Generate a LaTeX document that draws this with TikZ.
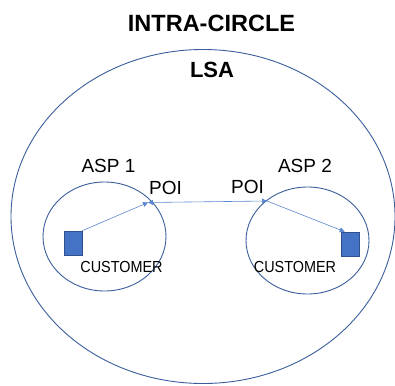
\documentclass[tikz,border=0pt]{standalone}
\usepackage{fontspec}
\setmainfont{Liberation Sans}
\usetikzlibrary{shapes.geometric,arrows.meta}
\definecolor{ringblue}{HTML}{3A5E9C}
\definecolor{boxblue}{HTML}{4472C4}
\definecolor{boxedge}{HTML}{2F528F}
\definecolor{linkblue}{HTML}{5B86CF}
\begin{document}
\begin{tikzpicture}[x=1pt,y=-1pt,
  ring/.style={ellipse,draw=ringblue,line width=0.9pt,inner sep=0pt},
  cust/.style={rectangle,draw=boxedge,fill=boxblue,line width=0.6pt,inner sep=0pt,minimum width=18pt,minimum height=24pt},
  link/.style={draw=linkblue,line width=0.6pt,-{Triangle[width=5pt,length=5pt]}},
  lbl/.style={inner sep=0pt,font=\fontsize{19}{19}\selectfont}]
\useasboundingbox (0,0) rectangle (395,385);
\node[ring,minimum width=384pt,minimum height=334pt] (lsa) at (203,216.5) {};
\node[ring,minimum width=123pt,minimum height=109pt] (asp1) at (104.5,236.5) {};
\node[ring,minimum width=123pt,minimum height=107pt] (asp2) at (307.5,240.5) {};
\node[cust] (cust1) at (73,243) {};
\node[cust] (cust2) at (350,244) {};
\coordinate (poi1) at (148,202.5);
\coordinate (poi2) at (267,201);
\node[inner sep=0pt,font=\bfseries\fontsize{23.5}{23.5}\selectfont] (title) at (211.5,23.5) {INTRA-CIRCLE};
\node[inner sep=0pt,font=\bfseries\fontsize{22}{22}\selectfont] (lsalabel) at (212,70) {LSA};
\node[lbl] (asp1label) at (108.5,166) {ASP 1};
\node[lbl] (asp2label) at (305,166) {ASP 2};
\node[lbl] (poi1label) at (165.5,188) {POI};
\node[lbl] (poi2label) at (247.5,186.5) {POI};
\node[inner sep=0pt,xscale=0.9,font=\fontsize{16}{16}\selectfont] (cust1label) at (121.5,266.5) {CUSTOMER};
\node[inner sep=0pt,xscale=0.9,font=\fontsize{16}{16}\selectfont] (cust2label) at (295,267) {CUSTOMER};
\draw[link] (cust1.north east) -- (poi1);
\draw[link,{Triangle[width=5pt,length=5pt]}-{Triangle[width=5pt,length=5pt]}] (poi1) -- (poi2);
\draw[link] (poi2) -- ([xshift=4pt]cust2.north west);
\end{tikzpicture}
\end{document}
